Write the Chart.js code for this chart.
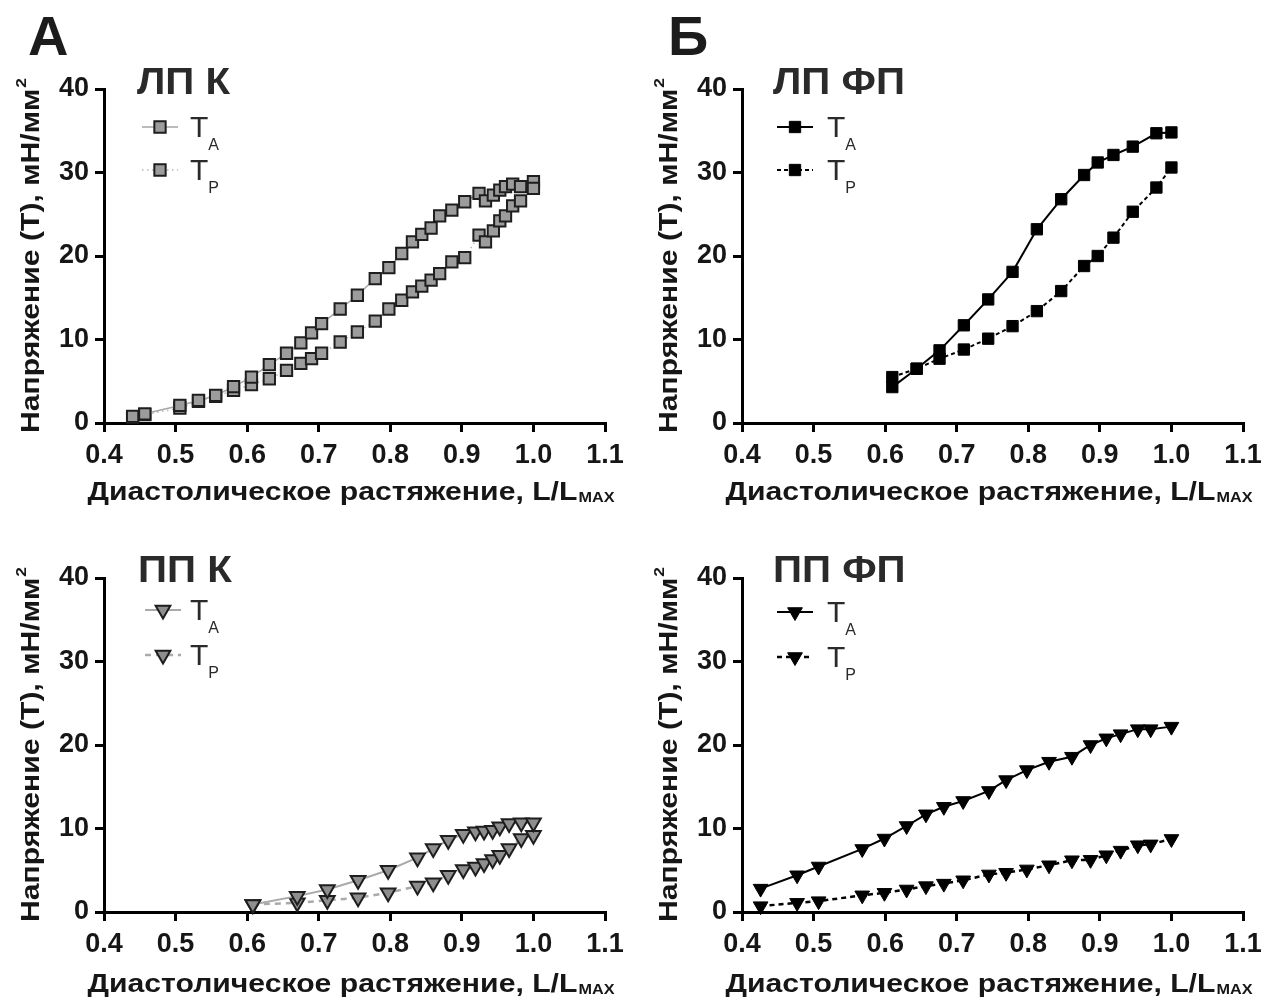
<!DOCTYPE html>
<html>
<head>
<meta charset="utf-8">
<script src="https://cdn.jsdelivr.net/npm/chart.js@4.4.1/dist/chart.umd.min.js"></script>
<style>
    html, body { margin: 0; padding: 0; background: #fff; }
    #wrap { position: relative; width: 1262px; height: 1003px; overflow: hidden; }
    canvas { position: absolute; }
</style>
</head>
<body>
<div id="wrap">
    <canvas id="c-lpk" width="631" height="520" style="left:0;top:0"></canvas>
    <canvas id="c-lpf" width="631" height="520" style="left:631px;top:0"></canvas>
    <canvas id="c-ppk" width="631" height="502" style="left:0;top:501px"></canvas>
    <canvas id="c-ppf" width="631" height="502" style="left:631px;top:501px"></canvas>
</div>
<script>
// --- Axis ticks ---
const X_TICKS = [0.4, 0.5, 0.6, 0.7, 0.8, 0.9, 1.0, 1.1];
const Y_TICKS = [0, 10, 20, 30, 40];

// --- ЛП К (left atrium, control) ---
const lpkX  = [0.44, 0.457, 0.506, 0.532, 0.556, 0.581, 0.606, 0.631, 0.655, 0.675, 0.690, 0.704, 0.730, 0.754, 0.779, 0.798, 0.816, 0.831, 0.844, 0.857, 0.869, 0.886, 0.904, 0.924, 0.933, 0.944, 0.953, 0.961, 0.971, 0.982, 1.0];
const lpkTA = [0.8, 1.1, 2.1, 2.7, 3.3, 4.35, 5.5, 7.0, 8.35, 9.6, 10.8, 11.9, 13.65, 15.3, 17.3, 18.6, 20.3, 21.7, 22.6, 23.35, 24.8, 25.5, 26.5, 27.5, 26.6, 27.3, 27.9, 28.3, 28.6, 28.3, 28.1];
const lpkTP = [0.7, 1.0, 1.8, 2.6, 3.2, 3.9, 4.6, 5.3, 6.3, 7.15, 7.7, 8.35, 9.7, 10.9, 12.2, 13.65, 14.7, 15.7, 16.4, 17.1, 17.9, 19.3, 19.8, 22.5, 21.7, 23.0, 24.2, 24.8, 26.0, 26.6, 28.9];

// --- ЛП ФП (left atrium, AF) ---
const lpfX  = [0.61, 0.644, 0.676, 0.710, 0.744, 0.778, 0.812, 0.846, 0.878, 0.897, 0.919, 0.946, 0.979, 1.0];
const lpfTA = [4.3, 6.5, 8.7, 11.7, 14.8, 18.1, 23.2, 26.8, 29.7, 31.2, 32.1, 33.1, 34.7, 34.8];
const lpfTP = [5.5, 6.5, 7.7, 8.8, 10.1, 11.6, 13.4, 15.8, 18.8, 20.0, 22.2, 25.3, 28.2, 30.6];

// --- ПП К (right atrium, control) ---
const ppkX  = [0.608, 0.670, 0.712, 0.755, 0.797, 0.838, 0.860, 0.881, 0.902, 0.919, 0.931, 0.943, 0.953, 0.966, 0.983, 1.0];
const ppkTA = [0.9, 1.9, 2.7, 3.8, 5.0, 6.5, 7.6, 8.6, 9.3, 9.6, 9.7, 9.8, 10.2, 10.6, 10.7, 10.7];
const ppkTP = [0.9, 1.1, 1.4, 1.7, 2.3, 3.1, 3.5, 4.4, 5.1, 5.4, 5.8, 6.3, 6.8, 7.6, 8.8, 9.2];

// --- ПП ФП (right atrium, AF) ---
const ppfX  = [0.426, 0.477, 0.507, 0.568, 0.599, 0.630, 0.657, 0.682, 0.709, 0.745, 0.769, 0.798, 0.829, 0.861, 0.887, 0.909, 0.929, 0.953, 0.971, 1.0];
const ppfTA = [2.8, 4.4, 5.45, 7.55, 8.8, 10.3, 11.7, 12.6, 13.3, 14.5, 15.8, 17.0, 18.0, 18.6, 20.0, 20.8, 21.3, 21.9, 21.9, 22.2];
const ppfTP = [0.7, 1.1, 1.3, 2.0, 2.3, 2.7, 3.1, 3.4, 3.8, 4.5, 4.7, 5.1, 5.6, 6.2, 6.25, 6.8, 7.35, 8.0, 8.1, 8.75];

const FONT = '"Liberation Sans", Arial, sans-serif';
const INK = '#161616';
const SX = 1.16; // the source figure's lettering is a little wide

const STYLES = {
    grayRect: {
        shape: 'rect', fill: '#9c9c9c', border: '#1e1e1e', bw: 2, r: 8,
        ta: { color: '#a6a6a6', width: 1.5, dash: [] },
        tp: { color: '#b8b8b8', width: 1.5, dash: [1.5, 3.5] }
    },
    blackRect: {
        shape: 'rect', fill: '#000', border: '#000', bw: 1, r: 8,
        ta: { color: '#000', width: 2, dash: [] },
        tp: { color: '#000', width: 2, dash: [4, 3] }
    },
    grayTri: {
        shape: 'triangle', fill: '#8e8e8e', border: '#1e1e1e', bw: 2, r: 8.5,
        ta: { color: '#aaaaaa', width: 2, dash: [] },
        tp: { color: '#aaaaaa', width: 2.5, dash: [6, 5] }
    },
    blackTri: {
        shape: 'triangle', fill: '#000', border: '#000', bw: 1, r: 8.5,
        ta: { color: '#000', width: 2, dash: [] },
        tp: { color: '#000', width: 2.5, dash: [5, 4] }
    }
};

const PANELS = [
    { id: 'c-lpk', x: lpkX, ta: lpkTA, tp: lpkTP, style: 'grayRect', letter: 'А', letterX: 28,
      title: 'ЛП К', titleX: 137, titleY: 94, legX: 160, legY: [127, 170], textX: 190,
      top: 89, right: 26, yW: 104, xH: 97, xTitleDy: 77, yTitleX: 39 },
    { id: 'c-lpf', x: lpfX, ta: lpfTA, tp: lpfTP, style: 'blackRect', letter: 'Б', letterX: 37,
      title: 'ЛП ФП', titleX: 142, titleY: 94, legX: 164, legY: [127, 170], textX: 196,
      top: 89, right: 19, yW: 111, xH: 97, xTitleDy: 77, yTitleX: 46 },
    { id: 'c-ppk', x: ppkX, ta: ppkTA, tp: ppkTP, style: 'grayTri',
      title: 'ПП К', titleX: 138, titleY: 81, legX: 163, legY: [109, 154], textX: 190,
      top: 77, right: 26, yW: 104, xH: 91, xTitleDy: 80, yTitleX: 39 },
    { id: 'c-ppf', x: ppfX, ta: ppfTA, tp: ppfTP, style: 'blackTri',
      title: 'ПП ФП', titleX: 142, titleY: 81, legX: 164, legY: [111, 156], textX: 196,
      top: 77, right: 19, yW: 111, xH: 91, xTitleDy: 80, yTitleX: 46 }
];

function toPoints(xs, ys) {
    return xs.map((x, i) => ({ x: x, y: ys[i] }));
}

// text widened along its own direction
function wideText(ctx, text, x, y, sx) {
    ctx.save();
    ctx.translate(x, y);
    ctx.scale(sx, 1);
    ctx.fillText(text, 0, 0);
    ctx.restore();
}

function drawMarker(ctx, st, x, y) {
    const r = st.r;
    ctx.save();
    ctx.fillStyle = st.fill;
    ctx.strokeStyle = st.border;
    ctx.lineWidth = st.bw;
    ctx.setLineDash([]);
    ctx.beginPath();
    if (st.shape === 'rect') {
        const s = r * Math.SQRT1_2;
        ctx.rect(x - s, y - s, 2 * s, 2 * s);
    } else {
        ctx.moveTo(x, y + r);
        ctx.lineTo(x - r * 0.866, y - r * 0.5);
        ctx.lineTo(x + r * 0.866, y - r * 0.5);
        ctx.closePath();
    }
    ctx.fill();
    ctx.stroke();
    ctx.restore();
}

// titles, legend, axis titles
const overlay = {
    id: 'overlay',
    afterDraw(chart, args, o) {
        const p = o.panel;
        const st = STYLES[p.style];
        const ctx = chart.ctx;
        const a = chart.chartArea;
        ctx.save();
        ctx.fillStyle = '#1c1c1c';
        ctx.textBaseline = 'alphabetic';
        ctx.textAlign = 'left';

        if (p.letter) {
            ctx.font = 'bold 56px ' + FONT;
            ctx.fillText(p.letter, p.letterX, 55);
        }

        ctx.fillStyle = '#2a2a2a';
        ctx.font = 'bold 36px ' + FONT;
        wideText(ctx, p.title, p.titleX, p.titleY, 1.12);

        // legend
        [['ta', 'A'], ['tp', 'P']].forEach(([k, sub], i) => {
            const y = p.legY[i];
            const ln = st[k];
            ctx.save();
            ctx.strokeStyle = ln.color;
            ctx.lineWidth = ln.width;
            ctx.setLineDash(ln.dash);
            ctx.beginPath();
            ctx.moveTo(p.legX - 18, y);
            ctx.lineTo(p.legX + 18, y);
            ctx.stroke();
            ctx.restore();
            drawMarker(ctx, st, p.legX, y);
            ctx.fillStyle = '#2a2a2a';
            ctx.font = '30px ' + FONT;
            ctx.fillText('T', p.textX, y + 10);
            const tw = ctx.measureText('T').width;
            ctx.font = '16px ' + FONT;
            ctx.fillText(sub, p.textX + tw, y + 23);
        });

        // x axis title with subscript
        ctx.fillStyle = INK;
        const main = 'Диастолическое растяжение, L/L';
        ctx.font = 'bold 26px ' + FONT;
        const mw = ctx.measureText(main).width * SX;
        ctx.font = 'bold 14px ' + FONT;
        const sw = ctx.measureText('MAX').width * SX;
        const x0 = (a.left + a.right) / 2 - 4 - (mw + sw) / 2;
        const by = a.bottom + p.xTitleDy;
        ctx.font = 'bold 26px ' + FONT;
        wideText(ctx, main, x0, by, SX);
        ctx.font = 'bold 14px ' + FONT;
        wideText(ctx, 'MAX', x0 + mw + 1, by + 2, SX);

        // y axis title with superscript
        const ytxt = 'Напряжение (T), мН/мм';
        ctx.font = 'bold 26px ' + FONT;
        const yw = ctx.measureText(ytxt).width * SX;
        ctx.font = 'bold 15px ' + FONT;
        const supw = ctx.measureText('2').width * SX;
        ctx.translate(p.yTitleX, (a.top + a.bottom) / 2);
        ctx.rotate(-Math.PI / 2);
        const s0 = -(yw + supw) / 2;
        ctx.font = 'bold 26px ' + FONT;
        wideText(ctx, ytxt, s0, 0, SX);
        ctx.font = 'bold 15px ' + FONT;
        wideText(ctx, '2', s0 + yw + 1, -13, SX);
        ctx.restore();
    }
};

function makeDataset(p, key) {
    const st = STYLES[p.style];
    const ln = st[key];
    return {
        data: toPoints(p.x, p[key]),
        borderColor: ln.color,
        borderWidth: ln.width,
        borderDash: ln.dash,
        tension: 0,
        showLine: true,
        fill: false,
        pointStyle: st.shape,
        rotation: st.shape === 'triangle' ? 180 : 0,
        pointRadius: st.r,
        pointBackgroundColor: st.fill,
        pointBorderColor: st.border,
        pointBorderWidth: st.bw
    };
}

function axisBase() {
    return {
        type: 'linear',
        grid: { display: true, drawOnChartArea: false, drawTicks: true, tickLength: 9, color: '#000', lineWidth: 3 },
        border: { display: true, color: '#000', width: 3 },
        ticks: { color: INK, font: { family: FONT, size: 27, weight: 'bold' } }
    };
}

function initPanel(p) {
    const ctx = document.getElementById(p.id).getContext('2d');
    const xs = axisBase();
    xs.min = 0.4; xs.max = 1.1;
    xs.ticks.padding = 7;
    xs.ticks.maxRotation = 0;
    xs.ticks.callback = v => Number(v).toFixed(1);
    xs.afterBuildTicks = s => { s.ticks = X_TICKS.map(v => ({ value: v })); };
    xs.afterFit = s => { s.height = p.xH; s.paddingLeft = 0; s.paddingRight = 0; };

    const ys = axisBase();
    ys.min = 0; ys.max = 40;
    ys.ticks.padding = 6;
    ys.afterBuildTicks = s => { s.ticks = Y_TICKS.map(v => ({ value: v })); };
    ys.afterFit = s => { s.width = p.yW; s.paddingTop = 0; s.paddingBottom = 0; };

    return new Chart(ctx, {
        type: 'line',
        data: { datasets: [makeDataset(p, 'ta'), makeDataset(p, 'tp')] },
        options: {
            responsive: false,
            animation: false,
            devicePixelRatio: 1,
            clip: false,
            events: [],
            layout: { padding: { top: p.top, right: p.right, left: 0, bottom: 0 } },
            plugins: { legend: { display: false }, tooltip: { enabled: false }, overlay: { panel: p } },
            scales: { x: xs, y: ys }
        },
        plugins: [overlay]
    });
}

window.onload = () => {
    PANELS.forEach(initPanel);
};
</script>
</body>
</html>
